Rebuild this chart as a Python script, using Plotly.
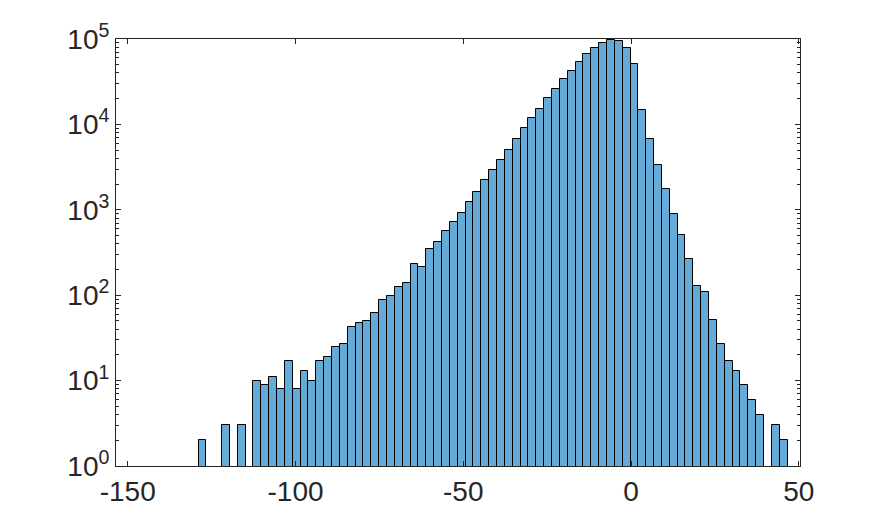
import plotly.graph_objects as go

# ── Data ──────────────────────────────────────────────────────────────────────

bin_start = -128.91     # left edge of first bin
bin_width = 2.341

counts = [
    2, None, None, 3, None, 3, None, 10, 9, 11,
    8, 17, 8, 13, 10, 17, 19, 25, 27, 42,
    47, 50, 62, 88, 98, 125, 139, 232, 214, 348,
    420, 565, 720, 918, 1234, 1616, 2232, 2924, 3830, 5015,
    6745, 9074, 11885, 15150, 20370, 25990, 34040, 42200, 53800, 66700,
    78500, 89800, 97300, 94800, 78500, 50900, 14750, 6745, 3350, 1753,
    893, 507, 265, 128, 109, 51, 27, 17, 13, 9,
    6, 4, None, 3, 2,
]

x_ticks = [-150, -100, -50, 0, 50]
y_ticks = [1, 10, 100, 1000, 10000, 100000]
y_labels = ["10<sup>0</sup>", "10<sup>1</sup>", "10<sup>2</sup>",
            "10<sup>3</sup>", "10<sup>4</sup>", "10<sup>5</sup>"]

# ── Chart ─────────────────────────────────────────────────────────────────────

centers = [bin_start + bin_width * (i + 0.5) for i in range(len(counts))]
minor_y = [m * 10 ** e for e in range(5) for m in range(2, 10)]

AXIS_COLOR = "#262626"

fig = go.Figure(go.Bar(
    x=centers, y=counts,
    width=bin_width,
    marker=dict(color="rgb(102,170,215)", line=dict(color="black", width=1)),
))

# the page body adds an 8px offset, margins account for it
fig.update_layout(
    width=885, height=525, autosize=False,
    paper_bgcolor="white", plot_bgcolor="white",
    margin=dict(l=108, r=93, t=31, b=67),
    font=dict(family="Liberation Sans, Arial, sans-serif", size=28, color=AXIS_COLOR),
    bargap=0, showlegend=False,
)
fig.update_xaxes(
    range=[-153.5, 50.36],
    tickvals=x_ticks, ticktext=[str(v) for v in x_ticks],
    ticks="inside", ticklen=5, tickcolor=AXIS_COLOR, tickwidth=1,
    showline=True, linecolor=AXIS_COLOR, linewidth=1, mirror="ticks",
    showgrid=False, zeroline=False,
)
fig.update_yaxes(
    type="log", range=[0, 5],
    tickvals=y_ticks, ticktext=y_labels,
    ticks="inside", ticklen=5, tickcolor=AXIS_COLOR, tickwidth=1,
    minor=dict(tickvals=minor_y, ticks="inside", ticklen=3, tickcolor=AXIS_COLOR, showgrid=False),
    showline=True, linecolor=AXIS_COLOR, linewidth=1, mirror="ticks",
    showgrid=False, zeroline=False,
)

fig.write_html("out.html")
